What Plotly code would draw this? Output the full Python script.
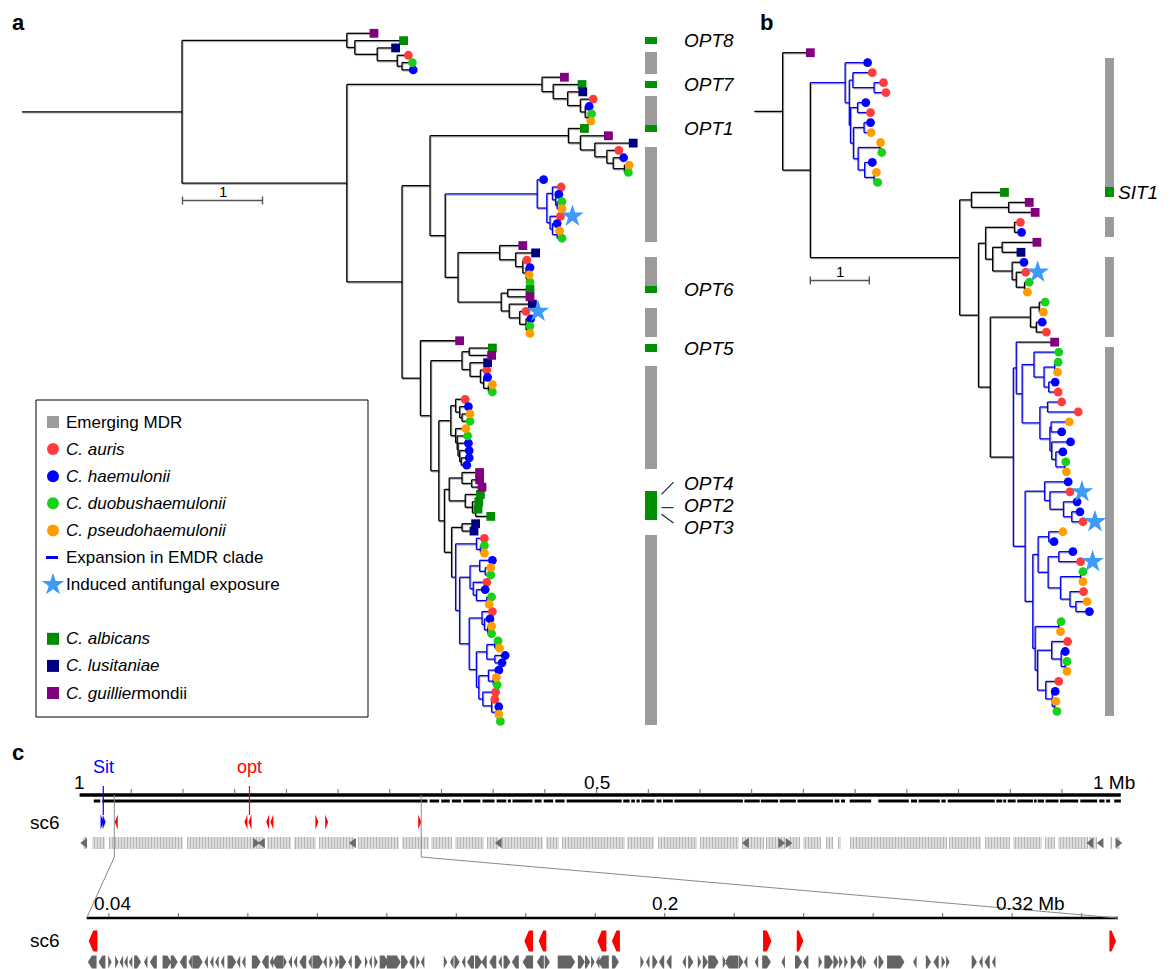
import re
import plotly.graph_objects as go

W, H = 1174, 969
FONT = "Liberation Sans, Arial, Helvetica, sans-serif"

# ====================== DATA ======================
# Trees in Newick. Branch lengths in tree units (scale bar = 1).
# leaf codes: au C. auris, ha C. haemulonii, du C. duobushaemulonii, ps C. pseudohaemulonii,
#             al C. albicans, lu C. lusitaniae, gu C. guilliermondii; '*' = induced antifungal exposure
# internal label B = EMDR expansion clade (stem coloured), b = expansion clade (stem not coloured)
opt8 = "(gu:0.34,(al:0.61,(lu:0.23,(au:0.14,(du:0.13,ha:0.14):0.06):0.25):0.28):0.1)"
opt7 = "(gu:0.28,(al:0.36,(lu:0.19,(au:0.16,(ha:0.05,(du:0.04,ps:0.03):0.04):0.06):0.16):0.18):0.14)"
opt1 = "(al:0.2,(gu:0.35,(lu:0.48,(au:0.15,(ha:0.13,(ps:0.06,du:0.05):0.14):0.08):0.15):0.18):0.15)"
emdr1 = "(ha:0.08,((au:0.11,(ha:0.04,(du:0.06,ps:0.06):0.02):0.04):0.07,(au*:0.13,(ha:0.06,(ps:0.03,du:0.06):0.06):0.03):0.04):0.12)B"
opt6a = "(gu:0.29,(lu:0.25,(au:0.05,(ha:0.05,(ps:0.03,du:0.04):0.01):0.04):0.09):0.2)"
opt6b = "((al:0.28,gu:0.28):0.08,(lu:0.29,(au*:0.08,(ha:0.06,(du:0.03,ps:0.03):0.02):0.08):0.13):0.1)"
opt5 = "((al:0.29,gu:0.28):0.09,(lu:0.22,(au:0.08,(ha:0.05,(ps:0.05,du:0.05):0.06):0.04):0.13):0.1)"
emdr_sub = "((au:0.12,(ha:0.11,(ps:0.1,du:0.1):0.03):0.05):0.06,(ps:0.13,(du:0.13,(ha:0.13,(ha:0.12,(ha:0.1,ha:0.07):0.02):0.02):0.01):0.02):0.06)"
opt234 = "((gu:0.22,(gu:0.1,gu:0.13):0.12):0.16,(al:0.19,(al:0.08,(al:0.03,al:0.19):0.04):0.09):0.2)"
emdr2 = ("((au:0.1,(du:0.05,ps:0.05):0.05):0.26,(((ha:0.16,(ps:0.07,du:0.07):0.07):0.12,"
         "(au:0.17,(ha:0.11,(du:0.06,ps:0.03):0.13):0.04):0.04):0.13,((au:0.13,(ha:0.07,(ps:0.05,du:0.05):0.04):0.03):0.16,"
         "(((du:0.04,ps:0.06):0.1,(ha:0.13,ha:0.09):0.1):0.13,((ha:0.13,(ps:0.04,du:0.05):0.06):0.12,"
         "(au:0.16,(au:0.04,(ha:0.03,(ps:0.01,du:0.03):0.02):0.06):0.11):0.05):0.03):0.09):0.12):0.05)B")
tree_a = ("(" + opt8 + ":2.06,(" + opt7 + ":2.44,((" + opt1 + ":1.73,(" + emdr1 + ":1.15,(" + opt6a + ":0.52,"
          + opt6b + ":0.54):0.16):0.19):0.35,(gu:0.49,(" + opt5 + ":0.39,(" + emdr_sub + ":0.15,(" + opt234
          + ":0.06,((lu:0.17,lu:0.15):0.13," + emdr2 + ":0.05):0.09):0.07):0.1):0.13):0.23):0.69):2.06):2.0")

sit_c3 = ("(ha:0.38,((au:0.33,(au:0.16,au:0.2):0.36):0.06,((ha:0.14,au:0.22):0.12,((ha:0.11,ps:0.12):0.18,"
          "((ps:0.01,du:0.03):0.37,(ha:0.13,(ps:0.04,du:0.06):0.16):0.11):0.08):0.05):0.02):0.07)B")
sit_m3 = "(al:0.56,(gu:0.35,gu:0.45):0.63)"
sit_m5 = "((au:0.1,ha:0.12):0.49,((gu:0.59,lu:0.32):0.16,(ha:0.2,(au*:0.16,(du:0.08,ps:0.05):0.14):0.07):0.33):0.12)"
sit_m6 = "((du:0.1,ps:0.07):0.15,(ha:0.1,au:0.17):0.1)"
sit_m8 = ("(gu:0.65,((du:0.42,((du:0.06,ps:0.05):0.18,(ha:0.11,au:0.16):0.08):0.17):0.2,((au:0.24,au:0.52):0.13,"
          "((ps:0.31,ha:0.18):0.02,(ha:0.32,(ha:0.12,(du:0.02,ps:0.03):0.15):0.07):0.03):0.17):0.3):0.1)")
sit_m9 = ("((ha:0.4,(au*:0.34,(ha:0.23,(ha:0.14,au*:0.19):0.14):0.23):0.09):0.33,(((ps:0.24,ha:0.09):0.18,"
          "((ha:0.24,au*:0.37):0.18,((du:0.04,ps:0.04):0.34,(au:0.23,(ps:0.19,ha:0.23):0.1):0.16):0.21):0.17):0.09,"
          "((du:0.04,ps:0.03):0.4,((au:0.27,(ha:0.07,(du:0.03,ps:0.03):0.07):0.16):0.24,"
          "(au:0.22,(ha:0.05,(ps:0.02,du:0.04):0.04):0.11):0.14):0.04):0.04):0.13)")
tree_b = ("(gu:0.47,(" + sit_c3 + ":0.59,(" + sit_m3 + ":0.2,(" + sit_m5 + ":0.12,(" + sit_m6 + ":0.68,("
          + sit_m8 + ":0.05," + sit_m9 + ":0.2)b:0.39):0.2):0.32):2.53):0.47):0.48")

labels_a = ["OPT8", "OPT7", "OPT1", "OPT6", "OPT5"]      # albicans orthologues, top to bottom
labels_a_group = ["OPT4", "OPT2", "OPT3"]               # the albicans cluster
labels_b = ["SIT1"]

# ---- panel c: scaffold sc6 (positions in Mb) ----
chrom_len = 1.007
contig_start = 0.0137
contig_gap = [0.021, 0.3375, 0.3487, 0.359, 0.370, 0.3886, 0.4023, 0.4134, 0.4179, 0.439, 0.4478, 0.459, 0.47,
              0.525, 0.5327, 0.5378, 0.5425, 0.5569, 0.5635, 0.5745, 0.6422, 0.6583, 0.6763, 0.6935, 0.7294,
              0.7356, 0.7425, 0.769, 0.803, 0.8107, 0.8327, 0.8386, 0.8858, 0.8928, 0.8968, 0.906, 0.9225,
              0.9261, 0.9335, 0.9474, 0.9668, 0.9851, 0.992, 0.9986]
contig_gap_kb = [2, 2, 2, 2, 2, 2, 2, 1.5, 1.5, 2, 2, 2, 2, 1.5, 1.5, 1.5, 1.5, 2, 1.5, 1.5, 1.5, 1, 1.5, 1.5,
                 1.5, 1.5, 4.5, 7, 2, 1.5, 1.5, 2, 1.5, 1, 1.5, 1.5, 1, 1, 1.5, 1.5, 2, 2, 1.5, 4]
band_start = 0.0037
band_end = 1.0059
band_gap_start = [0.0074, 0.0248, 0.1, 0.1784, 0.2043, 0.2283, 0.2653, 0.3086, 0.3375, 0.3597, 0.3912, 0.4052,
                  0.4485, 0.4634, 0.5279, 0.5554, 0.5975, 0.6378, 0.6616, 0.6818, 0.6964, 0.7166, 0.7286, 0.7367,
                  0.8385, 0.8722, 0.8997, 0.9308, 0.9437, 0.9748, 0.984, 0.9986]
band_gap_end = [0.0118, 0.0285, 0.1036, 0.181, 0.2072, 0.232, 0.269, 0.3116, 0.3394, 0.3627, 0.3938, 0.4078,
                0.4515, 0.4663, 0.5297, 0.5591, 0.6004, 0.6407, 0.6642, 0.6847, 0.6993, 0.7221, 0.7331, 0.7448,
                0.8411, 0.8752, 0.9023, 0.9338, 0.9462, 0.9766, 0.9961, 1.0023]
band_arrow_mb = [0.005, 0.170, 0.177, 0.265, 0.406, 0.645, 0.678, 0.685, 0.978, 0.988, 1.004]
band_arrow_strand = ["-", "+", "-", "-", "-", "-", "+", "+", "-", "-", "+"]

sit_start = [0.0212, 0.0232]
sit_end = [0.0222, 0.0242]
sit_strand = ["+", "+"]
opt_start = [0.0342, 0.1596, 0.1637, 0.1806, 0.1848, 0.2283, 0.2380, 0.3280]
opt_end = [0.0367, 0.1621, 0.1659, 0.1832, 0.1871, 0.2307, 0.2399, 0.3299]
opt_strand = ["-", "-", "-", "-", "-", "+", "+", "+"]
sit_mark_mb = 0.0229
opt_mark_mb = 0.1643

zoom_start, zoom_end = 0.0336, 0.3304
top_ticks = [0.05, 0.1, 0.15, 0.2, 0.25, 0.3, 0.35, 0.4, 0.45, 0.5, 0.55, 0.6, 0.65, 0.7, 0.75, 0.8, 0.85, 0.9, 0.95]
top_tick_labels = {0.0: "1", 0.5: "0.5", 1.0: "1 Mb"}
bot_ticks = [0.04, 0.06, 0.08, 0.1, 0.12, 0.14, 0.16, 0.18, 0.2, 0.22, 0.24, 0.26, 0.28, 0.3, 0.32]

gene_mid = [0.0352, 0.0380, 0.0403, 0.0423, 0.0436, 0.0449, 0.0465, 0.0480, 0.0506, 0.0528, 0.0567, 0.0588,
            0.0614, 0.0634, 0.0655, 0.0680, 0.0696, 0.0711, 0.0727, 0.0754, 0.0773, 0.0788, 0.0824, 0.0850,
            0.0868, 0.0886, 0.0907, 0.0922, 0.0937, 0.0958, 0.0979, 0.1001, 0.1022, 0.1040, 0.1057, 0.1073,
            0.1094, 0.1118, 0.1141, 0.1153, 0.1169, 0.1192, 0.1220, 0.1251, 0.1272, 0.1290, 0.1303, 0.1369,
            0.1387, 0.1402, 0.1421, 0.1441, 0.1464, 0.1480, 0.1505, 0.1526, 0.1546, 0.1570, 0.1606, 0.1642,
            0.1662, 0.1717, 0.1760, 0.1778, 0.1793, 0.1807, 0.1824, 0.1858, 0.1935, 0.1951, 0.1972, 0.1991,
            0.2012, 0.2056, 0.2075, 0.2100, 0.2117, 0.2140, 0.2172, 0.2193, 0.2219, 0.2233, 0.2264, 0.2293,
            0.2341, 0.2385, 0.2406, 0.2448, 0.2472, 0.2493, 0.2507, 0.2522, 0.2543, 0.2560, 0.2575, 0.2606,
            0.2623, 0.2665, 0.2720, 0.2759, 0.2781, 0.2802, 0.2815, 0.2891, 0.2910, 0.2928, 0.2947, 0.2964,
            0.2980, 0.2996, 0.3012, 0.3046, 0.3062, 0.3104, 0.3120, 0.3136, 0.3152, 0.3168, 0.3183, 0.3196,
            0.3249, 0.3287]
gene_kb = [2.5, 2, 1, 1, 1, 1, 1.5, 2.5, 1, 2, 2.5, 2, 2, 1, 3, 1, 1, 1, 1, 2.5, 1, 1, 2.5, 2, 1, 3, 1, 1, 1, 2,
           1, 3, 1, 1, 1, 2, 1, 2, 0.8, 0.8, 1, 2.5, 4, 2, 1.5, 1, 1, 1, 1, 1.5, 1, 2, 2, 1.5, 2, 1, 2, 2, 3, 2,
           1.5, 5, 2, 1.5, 1, 1, 3, 2, 1, 1, 1.5, 1.5, 1.5, 1, 1.5, 1, 1.5, 3, 1, 4, 1.5, 1, 1, 2.5, 1, 2, 1.5,
           1, 2.5, 1.5, 1, 1, 1.5, 1.5, 1, 1, 1.5, 5, 1, 1.5, 1.5, 1, 1, 1.5, 1, 1.5, 1, 1, 1, 1, 1, 1, 1, 2.5,
           1, 1.5, 1, 1, 1, 1, 2.5, 2]
gene_strand = list("--++---+-" "-++--+----+--+---+----+-++" "+-++-++++-+-+-+--+--" "-+---"
                   "+++++--++-" "+--" "-+++++-+-" "-+-+" "-++++++-+-++-+-+++-" "--")

# ====================== STYLES ======================
SPECIES = {
    "au": dict(symbol="circle", color="#ff3b3b"),
    "ha": dict(symbol="circle", color="#0000ff"),
    "du": dict(symbol="circle", color="#18d018"),
    "ps": dict(symbol="circle", color="#ff9d00"),
    "al": dict(symbol="square", color="#008c00"),
    "lu": dict(symbol="square", color="#000080"),
    "gu": dict(symbol="square", color="#800080"),
}
SQUARES = {"al", "lu", "gu"}
LINE_BLUE = "#0000ee"
STAR = "#3d9bf5"
STRIP_GRAY = "#9b9b9b"
STRIP_GREEN = "#009000"


# ====================== TREE HELPERS ======================
def parse_newick(s):
    pos = 0

    def node():
        nonlocal pos
        n = {"children": [], "name": "", "bl": 0.0, "flag": ""}
        if s[pos] == "(":
            pos += 1
            while True:
                n["children"].append(node())
                if s[pos] == ",":
                    pos += 1
                    continue
                if s[pos] == ")":
                    pos += 1
                    break
        m = re.match(r"[A-Za-z*]*", s[pos:])
        lab = m.group(0)
        pos += len(lab)
        if n["children"]:
            n["flag"] = lab
        else:
            n["name"] = lab
        if pos < len(s) and s[pos] == ":":
            pos += 1
            m = re.match(r"[0-9.]+", s[pos:])
            n["bl"] = float(m.group(0))
            pos += len(m.group(0))
        return n

    return node()


def layout_tree(root):
    leaves, segs = [], []

    def rec(n, xp, blue_parent):
        x = xp + n["bl"]
        in_blue = blue_parent or n["flag"] in ("B", "b")
        if not n["children"]:
            y = len(leaves)
            leaves.append(dict(sp=n["name"].rstrip("*"), star=n["name"].endswith("*"), x=x, y=y))
        else:
            ys = [rec(c, x, in_blue) for c in n["children"]]
            y = (ys[0] + ys[-1]) / 2
            segs.append((x, ys[0], x, ys[-1], in_blue))
        stem_blue = (blue_parent or n["flag"] == "B") and n["name"].rstrip("*") not in SQUARES
        segs.append((xp, y, x, y, stem_blue))
        return y

    rec(root, 0.0, False)
    return leaves, segs


def seg_xy(segs, blue=None, dx=0.0, dy=0.0):
    xs, ys = [], []
    for x0, y0, x1, y1, b in segs:
        if blue is None or b == blue:
            xs += [x0 + dx, x1 + dx, None]
            ys += [y0 + dy, y1 + dy, None]
    return xs, ys


fig = go.Figure()


def xdom(p0, p1):
    return [p0 / W, p1 / W]


def ydom(p0, p1):
    return [1 - p1 / H, 1 - p0 / H]


# panel a: root at px 22, 80 px per unit; leaf i at px 33.3 + 7.32 i
A_X0, A_PPU, A_Y0, A_DY = 22.0, 80.0, 33.3, 7.32
# panel b: root at px 754.3, 59 px per unit; leaf i at px 52.7 + 9.98 i
B_X0, B_PPU, B_Y0, B_DY = 754.3, 59.0, 52.7, 9.98
PA = dict(xd=(0, 740), yd=(0, 740))
PB = dict(xd=(740, W), yd=(0, 740))

layout_axes = {}
layout_axes["xaxis"] = dict(domain=xdom(*PA["xd"]), range=[(PA["xd"][0] - A_X0) / A_PPU, (PA["xd"][1] - A_X0) / A_PPU], visible=False, anchor="y")
layout_axes["yaxis"] = dict(domain=ydom(*PA["yd"]), range=[(PA["yd"][1] - A_Y0) / A_DY, (PA["yd"][0] - A_Y0) / A_DY], visible=False, anchor="x")
layout_axes["xaxis2"] = dict(domain=xdom(*PB["xd"]), range=[(PB["xd"][0] - B_X0) / B_PPU, (PB["xd"][1] - B_X0) / B_PPU], visible=False, anchor="y2")
layout_axes["yaxis2"] = dict(domain=ydom(*PB["yd"]), range=[(PB["yd"][1] - B_Y0) / B_DY, (PB["yd"][0] - B_Y0) / B_DY], visible=False, anchor="x2")

# panel c: top track 0 Mb at px 79.6, 1034 px/Mb; zoom track 0.04 Mb at px 108.9, 3474 px/Mb
T_X0, T_PPM = 79.6, 1034.0
Z_X0, Z_PPM, Z_REF = 108.9, 3474.0, 0.04
layout_axes["yaxis3"] = dict(domain=[0, 1], range=[H, 0], visible=False, anchor="x3")
layout_axes["xaxis3"] = dict(domain=[0, 1], range=[-T_X0 / T_PPM, (W - T_X0) / T_PPM], visible=False, anchor="y3")
layout_axes["xaxis4"] = dict(domain=[0, 1], range=[Z_REF - Z_X0 / Z_PPM, Z_REF + (W - Z_X0) / Z_PPM], visible=False, anchor="y3", overlaying="x3")
layout_axes["xaxis5"] = dict(domain=[0, 1], range=[0, W], visible=False, anchor="y3", overlaying="x3")


def top_px(mb):
    return T_X0 + T_PPM * mb


def zoom_px(mb):
    return Z_X0 + Z_PPM * (mb - Z_REF)


# ---------- draw trees ----------
def draw_tree(newick, xa, ya, ppu, strip_x0, strip_w, leaf_dy):
    root = parse_newick(newick)
    leaves, segs = layout_tree(root)
    xs, ys = seg_xy(segs, None, 0.9 / ppu, 1.1 / leaf_dy)
    fig.add_trace(go.Scatter(x=xs, y=ys, mode="lines", xaxis=xa, yaxis=ya, hoverinfo="skip",
                             line=dict(color="rgba(120,120,120,0.55)", width=1.3), showlegend=False))
    for blue in (False, True):
        xs, ys = seg_xy(segs, blue)
        fig.add_trace(go.Scatter(x=xs, y=ys, mode="lines", xaxis=xa, yaxis=ya, hoverinfo="skip",
                                 line=dict(color=LINE_BLUE if blue else "black", width=1.3), showlegend=False))
    for sp, st in SPECIES.items():
        pts = [l for l in leaves if l["sp"] == sp]
        fig.add_trace(go.Scatter(x=[p["x"] for p in pts], y=[p["y"] for p in pts], mode="markers",
                                 xaxis=xa, yaxis=ya, showlegend=False, hoverinfo="skip",
                                 marker=dict(symbol=st["symbol"], color=st["color"], size=8.8, line=dict(width=0))))
    stars = [l for l in leaves if l["star"]]
    fig.add_trace(go.Scatter(x=[p["x"] + 12.0 / ppu for p in stars], y=[p["y"] for p in stars], mode="markers",
                             xaxis=xa, yaxis=ya, showlegend=False, hoverinfo="skip",
                             marker=dict(symbol="star", color=STAR, size=17, line=dict(width=0))))
    ys_s, cols = [], []
    for l in leaves:
        if l["sp"] in SQUARES and l["sp"] != "al":
            continue
        ys_s.append(l["y"])
        cols.append(STRIP_GREEN if l["sp"] == "al" else STRIP_GRAY)
    fig.add_trace(go.Bar(y=ys_s, x=[strip_w] * len(ys_s), base=strip_x0, orientation="h", width=1.0,
                         xaxis=xa, yaxis=ya, marker=dict(color=cols, line=dict(width=0)),
                         showlegend=False, hoverinfo="skip"))
    return leaves


strip_a0 = (645.0 - A_X0) / A_PPU
strip_b0 = (1104.5 - B_X0) / B_PPU
leaves_a = draw_tree(tree_a, "x", "y", A_PPU, strip_a0, 12.0 / A_PPU, A_DY)
leaves_b = draw_tree(tree_b, "x2", "y2", B_PPU, strip_b0, 9.5 / B_PPU, B_DY)

annotations = []
shapes = []

alb_a = [l["y"] for l in leaves_a if l["sp"] == "al"]
lab_xa = (682.0 - A_X0) / A_PPU
for name, yv in zip(labels_a, alb_a[:5]):
    annotations.append(dict(x=lab_xa, y=yv, xref="x", yref="y", text="<i>" + name + "</i>", showarrow=False,
                            xanchor="left", yanchor="middle", font=dict(size=19, family=FONT, color="black")))
grp = alb_a[5:]
gmid = (grp[0] + grp[-1]) / 2
offs = [-3.0, 0.0, 3.0]
line_x0 = (661.5 - A_X0) / A_PPU
line_x1 = (673.5 - A_X0) / A_PPU
line_from = [-1.5, 0.3, 1.2]
line_to = [-3.2, 0.3, 2.4]
for name, o, lf, lt in zip(labels_a_group, offs, line_from, line_to):
    annotations.append(dict(x=lab_xa, y=gmid + o, xref="x", yref="y", text="<i>" + name + "</i>", showarrow=False,
                            xanchor="left", yanchor="middle", font=dict(size=19, family=FONT, color="black")))
    fig.add_trace(go.Scatter(x=[line_x0, line_x1], y=[gmid + lf, gmid + lt], mode="lines", xaxis="x", yaxis="y",
                             line=dict(color="#1a1a4a", width=1.1), showlegend=False, hoverinfo="skip"))
alb_b = [l["y"] for l in leaves_b if l["sp"] == "al"]
annotations.append(dict(x=(1116.0 - B_X0) / B_PPU, y=alb_b[0], xref="x2", yref="y2", text="<i>" + labels_b[0] + "</i>",
                        showarrow=False, xanchor="left", yanchor="middle", font=dict(size=19, family=FONT, color="black")))


def scale_bar(xa, ya, x0, yv, dy_tick, dy_lab):
    fig.add_trace(go.Scatter(x=[x0, x0 + 1, None, x0, x0, None, x0 + 1, x0 + 1],
                             y=[yv, yv, None, yv - dy_tick, yv + dy_tick, None, yv - dy_tick, yv + dy_tick],
                             mode="lines", xaxis=xa, yaxis=ya, line=dict(color="#555555", width=1.4),
                             showlegend=False, hoverinfo="skip"))
    annotations.append(dict(x=x0 + 0.5, y=yv - dy_lab, xref=xa, yref=ya, text="1", showarrow=False,
                            yanchor="middle", font=dict(size=15, family=FONT, color="black")))


scale_bar("x", "y", (182.5 - A_X0) / A_PPU, (200.5 - A_Y0) / A_DY, 4.0 / A_DY, 9.5 / A_DY)
scale_bar("x2", "y2", (810.3 - B_X0) / B_PPU, (280.5 - B_Y0) / B_DY, 4.0 / B_DY, 9.5 / B_DY)

# ---------- legend (panel a) ----------
legend_rows = [
    ("Emerging MDR", "square", STRIP_GRAY),
    ("<i>C. auris</i>", "circle", SPECIES["au"]["color"]),
    ("<i>C. haemulonii</i>", "circle", SPECIES["ha"]["color"]),
    ("<i>C. duobushaemulonii</i>", "circle", SPECIES["du"]["color"]),
    ("<i>C. pseudohaemulonii</i>", "circle", SPECIES["ps"]["color"]),
    ("Expansion in EMDR clade", "line", LINE_BLUE),
    ("Induced antifungal exposure", "star", STAR),
    None,
    ("<i>C. albicans</i>", "square", SPECIES["al"]["color"]),
    ("<i>C. lusitaniae</i>", "square", SPECIES["lu"]["color"]),
    ("<i>C. guillier</i>mondii", "square", SPECIES["gu"]["color"]),
]
LG_X0, LG_X1, LG_Y0, LG_Y1 = 36, 368, 400, 717
LG_ROW0, LG_DROW, LG_MX, LG_TX = 422, 27.1, 53, 64
shapes.append(dict(type="rect", xref="x5", yref="y3", x0=LG_X0, x1=LG_X1, y0=LG_Y0, y1=LG_Y1,
                   line=dict(color="black", width=1), fillcolor="rgba(0,0,0,0)", layer="above"))
for k, row in enumerate(legend_rows):
    if row is None:
        continue
    text, sym, col = row
    yv = LG_ROW0 + LG_DROW * k
    if sym == "line":
        fig.add_trace(go.Scatter(x=[LG_MX - 7, LG_MX + 5], y=[yv, yv], mode="lines", xaxis="x5", yaxis="y3",
                                 line=dict(color=col, width=3), showlegend=False, hoverinfo="skip"))
    else:
        fig.add_trace(go.Scatter(x=[LG_MX], y=[yv], mode="markers", xaxis="x5", yaxis="y3", showlegend=False,
                                 hoverinfo="skip",
                                 marker=dict(symbol=sym, color=col, size=17 if sym == "star" else 12, line=dict(width=0))))
    annotations.append(dict(x=LG_TX, y=yv, xref="x5", yref="y3", text=text, showarrow=False, xanchor="left",
                            yanchor="middle", font=dict(size=17, family=FONT, color="black")))


# ---------- panel c ----------
def gene_polys(starts, ends, strands, yc, h, head_mb, min_w=0.0):
    xs, ys = [], []
    for s, e, st in zip(starts, ends, strands):
        if e - s < min_w:
            c = (s + e) / 2
            s, e = c - min_w / 2, c + min_w / 2
        hd = min(head_mb, e - s)
        if st == "+":
            px = [s, e - hd, e, e - hd, s, s]
        else:
            px = [e, s + hd, s, s + hd, e, e]
        py = [yc - h / 2, yc - h / 2, yc, yc + h / 2, yc + h / 2, yc - h / 2]
        xs += px + [None]
        ys += py + [None]
    return xs, ys


Y_TLAB, Y_AX, Y_CONTIG, Y_CGENE, Y_BAND = 784, 795, 801, 822, 843
Y_ZLAB, Y_ZAX, Y_ZRED, Y_ZGENE = 903, 918, 941, 962

fig.add_trace(go.Scatter(x=[0, chrom_len], y=[Y_AX, Y_AX], mode="lines", xaxis="x3", yaxis="y3",
                         line=dict(color="black", width=3.5), showlegend=False, hoverinfo="skip"))
tx, ty = [], []
for t in top_ticks:
    tx += [t, t, None]
    ty += [Y_AX - 6, Y_AX - 1, None]
fig.add_trace(go.Scatter(x=tx, y=ty, mode="lines", xaxis="x3", yaxis="y3", line=dict(color="#666666", width=1),
                         showlegend=False, hoverinfo="skip"))
for v, lab in top_tick_labels.items():
    annotations.append(dict(x=v, y=Y_TLAB - 2, xref="x3", yref="y3", text=lab, showarrow=False, yanchor="middle",
                            font=dict(size=19, family=FONT, color="black")))
cx, cy = [], []
prev = contig_start
for g, wkb in zip(contig_gap, contig_gap_kb):
    cx += [prev, g - wkb / 2000, None]
    cy += [Y_CONTIG, Y_CONTIG, None]
    prev = g + wkb / 2000
cx += [prev, chrom_len]
cy += [Y_CONTIG, Y_CONTIG]
fig.add_trace(go.Scatter(x=cx, y=cy, mode="lines", xaxis="x3", yaxis="y3", line=dict(color="black", width=3),
                         showlegend=False, hoverinfo="skip"))
bs, bl = [], []
prev = band_start
for gs, ge in zip(band_gap_start, band_gap_end):
    bs.append(prev)
    bl.append(gs - prev)
    prev = ge
bs.append(prev)
bl.append(band_end - prev)
fig.add_trace(go.Bar(y=[Y_BAND] * len(bs), x=bl, base=bs, orientation="h", width=12, xaxis="x3", yaxis="y3",
                     marker=dict(color="#d9d9d9", line=dict(width=0),
                                 pattern=dict(shape="|", fgcolor="#7d7d7d", bgcolor="#ececec", size=3, solidity=0.5)),
                     showlegend=False, hoverinfo="skip"))
fig.add_trace(go.Scatter(x=band_arrow_mb, y=[Y_BAND] * len(band_arrow_mb), mode="markers", xaxis="x3", yaxis="y3",
                         marker=dict(symbol=["triangle-right" if s == "+" else "triangle-left" for s in band_arrow_strand],
                                     color="#6a6a6a", size=9, line=dict(width=0)),
                         showlegend=False, hoverinfo="skip"))
for mb, col, lab in ((sit_mark_mb, "#0000ff", "Sit"), (opt_mark_mb, "#ff0000", "opt")):
    fig.add_trace(go.Scatter(x=[mb, mb], y=[Y_AX - 9, Y_CGENE - 7], mode="lines", xaxis="x3", yaxis="y3",
                             line=dict(color=col, width=1.2), showlegend=False, hoverinfo="skip"))
    annotations.append(dict(x=mb, y=767, xref="x3", yref="y3", text=lab, showarrow=False, yanchor="middle",
                            font=dict(size=18, family=FONT, color=col)))
for st_, en_, sd_, col in ((sit_start, sit_end, sit_strand, "#0000ff"), (opt_start, opt_end, opt_strand, "#ff0000")):
    gx, gy = gene_polys(st_, en_, sd_, Y_CGENE, 15, 3.0 / T_PPM, min_w=3.0 / T_PPM)
    fig.add_trace(go.Scatter(x=gx, y=gy, mode="lines", fill="toself", fillcolor=col, xaxis="x3", yaxis="y3",
                             line=dict(width=0, color=col), showlegend=False, hoverinfo="skip"))

for mb in (zoom_start, zoom_end):
    fig.add_trace(go.Scatter(x=[mb, mb], y=[Y_AX, 857], mode="lines", xaxis="x3", yaxis="y3",
                             line=dict(color="#8a8a8a", width=1), showlegend=False, hoverinfo="skip"))
    fig.add_trace(go.Scatter(x=[top_px(mb), zoom_px(mb)], y=[857, Y_ZAX], mode="lines", xaxis="x5",
                             yaxis="y3", line=dict(color="#8a8a8a", width=1), showlegend=False, hoverinfo="skip"))

fig.add_trace(go.Scatter(x=[zoom_start, zoom_end], y=[Y_ZAX, Y_ZAX], mode="lines", xaxis="x4", yaxis="y3",
                         line=dict(color="black", width=2.5), showlegend=False, hoverinfo="skip"))
tx, ty = [], []
for t in bot_ticks:
    tx += [t, t, None]
    ty += [Y_ZAX - 5, Y_ZAX - 1, None]
fig.add_trace(go.Scatter(x=tx, y=ty, mode="lines", xaxis="x4", yaxis="y3", line=dict(color="#666666", width=1),
                         showlegend=False, hoverinfo="skip"))
annotations.append(dict(x=0.04, y=Y_ZLAB, xref="x4", yref="y3", text="0.04", showarrow=False, yanchor="middle",
                        xshift=4, font=dict(size=19, family=FONT, color="black")))
annotations.append(dict(x=0.2, y=Y_ZLAB, xref="x4", yref="y3", text="0.2", showarrow=False, yanchor="middle",
                        font=dict(size=19, family=FONT, color="black")))
annotations.append(dict(x=0.32, y=Y_ZLAB, xref="x4", yref="y3", text="0.32 Mb", showarrow=False, yanchor="middle",
                        xanchor="right", xshift=-15, font=dict(size=19, family=FONT, color="black")))
gx, gy = gene_polys([m - k / 2000 for m, k in zip(gene_mid, gene_kb)], [m + k / 2000 for m, k in zip(gene_mid, gene_kb)],
                    gene_strand, Y_ZGENE, 13, 4.0 / Z_PPM, min_w=2.0 / Z_PPM)
fig.add_trace(go.Scatter(x=gx, y=gy, mode="lines", fill="toself", fillcolor="#646464", xaxis="x4", yaxis="y3",
                         line=dict(width=0, color="#646464"), showlegend=False, hoverinfo="skip"))
gx, gy = gene_polys(opt_start, opt_end, opt_strand, Y_ZRED, 21, 4.5 / Z_PPM)
fig.add_trace(go.Scatter(x=gx, y=gy, mode="lines", fill="toself", fillcolor="#ff0000", xaxis="x4", yaxis="y3",
                         line=dict(width=0, color="#ff0000"), showlegend=False, hoverinfo="skip"))

for yv in (Y_CGENE, Y_ZRED - 1):
    annotations.append(dict(x=45, y=yv, xref="x5", yref="y3", text="sc6", showarrow=False, yanchor="middle",
                            font=dict(size=19, family=FONT, color="black")))
for lab, xv, yv in (("a", 18, 22), ("b", 766, 22), ("c", 18, 752)):
    annotations.append(dict(x=xv, y=yv, xref="x5", yref="y3", text="<b>" + lab + "</b>", showarrow=False,
                            yanchor="middle", font=dict(size=22, family=FONT, color="black")))

fig.update_layout(width=W, height=H, margin=dict(l=0, r=0, t=0, b=0), paper_bgcolor="white",
                  plot_bgcolor="rgba(0,0,0,0)", showlegend=False, annotations=annotations, shapes=shapes,
                  bargap=0, **layout_axes)
fig.write_html("out.html", config={"displayModeBar": False, "staticPlot": True},
               post_script="document.body.style.margin='0';document.body.style.overflow='hidden';")
